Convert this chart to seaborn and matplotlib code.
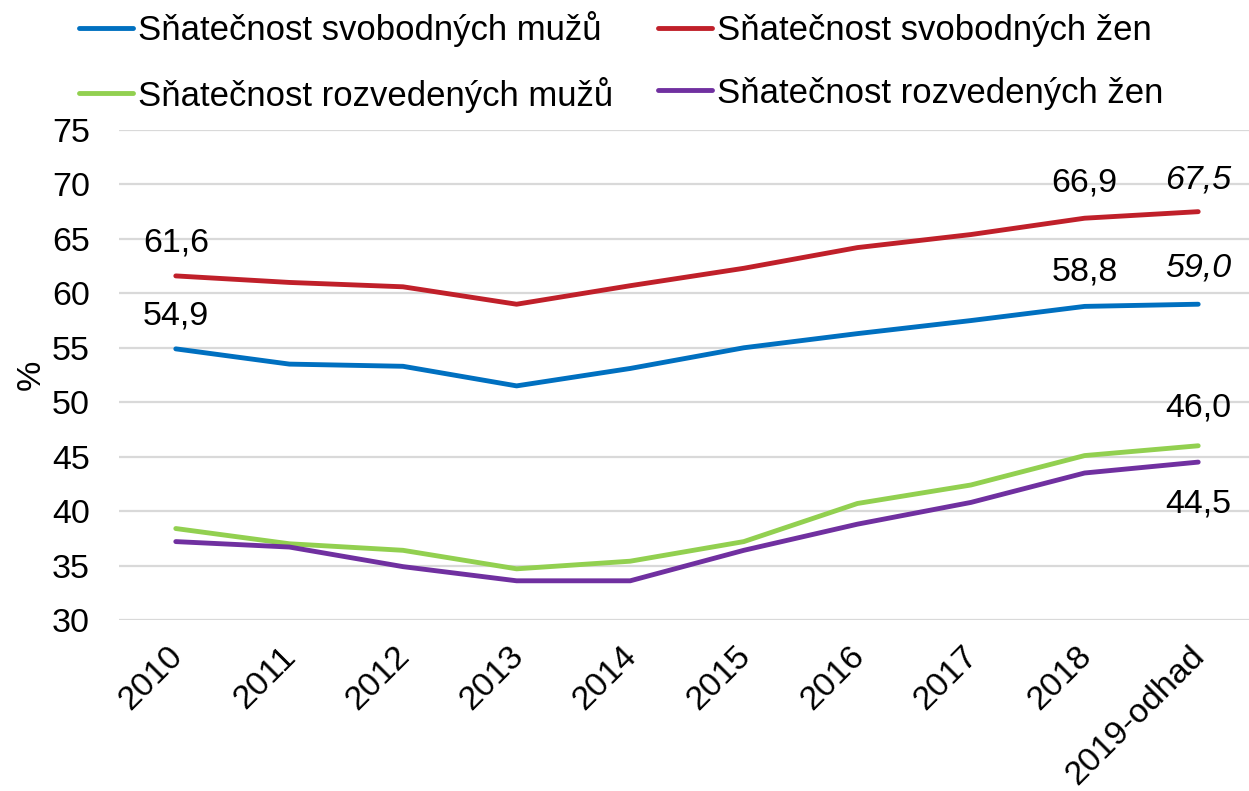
import matplotlib
matplotlib.use("Agg")
import matplotlib.pyplot as plt
import matplotlib.transforms as mtransforms
import pandas as pd
import seaborn as sns

# Data
years = ["2010", "2011", "2012", "2013", "2014", "2015", "2016", "2017", "2018", "2019-odhad"]
svob_muzi = [54.9, 53.5, 53.3, 51.5, 53.1, 55.0, 56.3, 57.5, 58.8, 59.0]
svob_zeny = [61.6, 61.0, 60.6, 59.0, 60.7, 62.3, 64.2, 65.4, 66.9, 67.5]
rozv_muzi = [38.4, 37.0, 36.4, 34.7, 35.4, 37.2, 40.7, 42.4, 45.1, 46.0]
rozv_zeny = [37.2, 36.7, 34.9, 33.6, 33.6, 36.4, 38.8, 40.8, 43.5, 44.5]

series_names = [
    "Sňatečnost svobodných mužů",
    "Sňatečnost svobodných žen",
    "Sňatečnost rozvedených mužů",
    "Sňatečnost rozvedených žen",
]
colors = ["#0070C0", "#C0202A", "#92D050", "#7030A0"]

df = pd.DataFrame({
    "rok": years * 4,
    "hodnota": svob_muzi + svob_zeny + rozv_muzi + rozv_zeny,
    "rada": [n for n in series_names for _ in years],
})

sns.set_theme(style="white")
plt.rcParams["font.family"] = ["Liberation Sans", "DejaVu Sans"]
for k in ["text.color", "axes.labelcolor", "xtick.color", "ytick.color"]:
    plt.rcParams[k] = "black"

fig = plt.figure(figsize=(12.49, 7.91), dpi=100)
ax = fig.add_axes([119 / 1249, 1 - 620 / 791, 1136 / 1249, 490 / 791])

lw = 3.5
sns.lineplot(data=df, x="rok", y="hodnota", hue="rada", hue_order=series_names,
             palette=colors, linewidth=lw, sort=False, ax=ax, legend=False)

ax.set_xlim(-0.5, 9.5)
ax.set_ylim(30, 75)
ax.set_yticks(range(30, 80, 5))
ax.yaxis.grid(True, color="#d9d9d9", linewidth=1.6)
ax.set_axisbelow(True)
for s in ax.spines.values():
    s.set_visible(False)
ax.tick_params(axis="both", length=0, labelsize=24.5)
ax.tick_params(axis="y", pad=21)
ax.tick_params(axis="x", pad=15)
shift = mtransforms.ScaledTranslation(-9 / 100, 0, fig.dpi_scale_trans)
for t in ax.get_xticklabels():
    t.set_rotation(45)
    t.set_ha("right")
    t.set_rotation_mode("anchor")
    t.set_transform(t.get_transform() + shift)
ax.set_xlabel("")
ax.set_ylabel("%", fontsize=24.5, labelpad=4)

# data labels
fs = 24.5
def lab(i, vals, dy=25, italic=False):
    txt = f"{vals[i]:.1f}".replace(".", ",")
    ax.annotate(txt, (i, vals[i]), textcoords="offset points",
                xytext=(0, dy), ha="center", va="center",
                fontsize=fs, style="italic" if italic else "normal")

lab(0, svob_zeny, dy=24)
lab(0, svob_muzi, dy=24)
lab(8, svob_zeny)
lab(8, svob_muzi)
lab(9, svob_zeny, dy=23, italic=True)
lab(9, svob_muzi, dy=26, italic=True)
lab(9, rozv_muzi, dy=27)
lab(9, rozv_zeny, dy=-30)

# legend: two rows, order blue/red, green/purple
handles = [plt.Line2D([], [], color=c, linewidth=lw) for c in colors]
order = [0, 2, 1, 3]
fig.legend([handles[i] for i in order], [series_names[i] for i in order],
           ncol=2, loc="upper left", bbox_to_anchor=(79 / 1249, 0.986),
           borderpad=0, borderaxespad=0,
           frameon=False, fontsize=25, handlelength=1.55, handletextpad=0.15,
           columnspacing=1.3, labelspacing=0.85)

fig.savefig("out.png", dpi=100)
